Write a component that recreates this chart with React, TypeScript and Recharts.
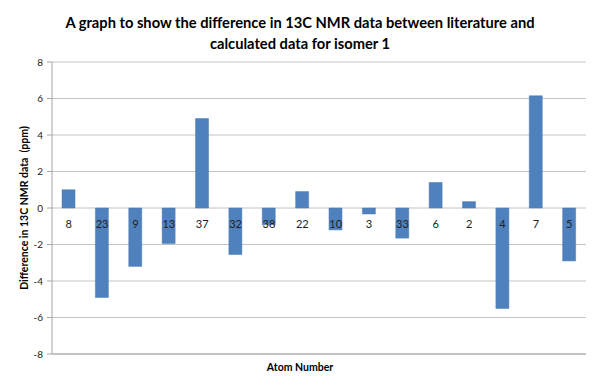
import React from "react";
import { BarChart, Bar, XAxis, YAxis, CartesianGrid } from "recharts";

// atom numbers in the order plotted
const atomNumbers = ["8", "23", "9", "13", "37", "32", "38", "22", "10", "3", "33", "6", "2", "4", "7", "5"];
// literature - calculated shift (ppm)
const differences = [1.0, -4.9, -3.2, -1.95, 4.9, -2.55, -0.92, 0.9, -1.2, -0.33, -1.65, 1.4, 0.35, -5.5, 6.15, -2.9];
const yTicks = [-8, -6, -4, -2, 0, 2, 4, 6, 8];

const W = 600;
const H = 386;
const M = { top: 62, right: 14, bottom: 2, left: 0 };
const X_AXIS_H = 30;
const PLOT_BOTTOM = H - M.bottom - X_AXIS_H;
const ZERO_OFFSET = (PLOT_BOTTOM - M.top) / 2;

const FONT = "Lato, 'Open Sans', sans-serif";

const data = atomNumbers.map((atom, i) => ({ atom, diff: differences[i] }));

// category labels sit just under the zero line, not at the bottom axis
function ZeroTick(props: any) {
  const { x, y, payload } = props;
  return (
    <text
      x={x}
      y={y - ZERO_OFFSET + 15}
      textAnchor="middle"
      dominantBaseline="central"
      fontSize={11}
      fontFamily={FONT}
      fill="#222"
    >
      {payload.value}
    </text>
  );
}

export default function App() {
  return (
    <div
      style={{
        position: "relative",
        width: W,
        height: H,
        background: "#fff",
        fontFamily: FONT,
        margin: -8,
      }}
    >
      <div
        style={{
          position: "absolute",
          left: 1,
          top: 4,
          width: 592,
          height: 378,
          border: "1px solid #8c8c8c",
          boxSizing: "border-box",
        }}
      />
      <div
        style={{
          position: "absolute",
          left: 0,
          top: 12,
          width: W,
          textAlign: "center",
          fontWeight: 700,
          fontSize: 14.7,
          lineHeight: "21px",
          color: "#000",
        }}
      >
        A graph to show the difference in 13C NMR data between literature and
        <br />
        calculated data for isomer 1
      </div>
      <div
        style={{
          position: "absolute",
          left: 24 - 100,
          top: 208 - 7,
          width: 200,
          height: 14,
          lineHeight: "14px",
          textAlign: "center",
          transform: "rotate(-90deg)",
          fontWeight: 700,
          fontSize: 10.5,
          color: "#000",
        }}
      >
        Difference in 13C NMR data&nbsp;&nbsp;(ppm)
      </div>
      <div
        style={{
          position: "absolute",
          left: 0,
          top: 361,
          width: W,
          textAlign: "center",
          fontWeight: 700,
          fontSize: 10.5,
          color: "#000",
        }}
      >
        Atom Number
      </div>
      <BarChart
        width={W}
        height={H}
        data={data}
        margin={M}
        barCategoryGap="30%"
        style={{ position: "absolute", left: 0, top: 0 }}
      >
        <CartesianGrid vertical={false} stroke="#c4c4c4" strokeWidth={1} />
        <XAxis
          dataKey="atom"
          height={X_AXIS_H}
          axisLine={{ stroke: "#a6a6a6" }}
          tickLine={false}
          tickSize={0}
          tickMargin={0}
          tick={<ZeroTick />}
          interval={0}
        />
        <YAxis
          width={52}
          domain={[-8, 8]}
          ticks={yTicks}
          interval={0}
          axisLine={{ stroke: "#a6a6a6" }}
          tickLine={{ stroke: "#a6a6a6" }}
          tickSize={5}
          tickMargin={4}
          tick={{ fontSize: 10, fill: "#222", fontFamily: FONT }}
        />
        <Bar dataKey="diff" fill="#4f81bd" stroke="#4a7ab5" strokeWidth={0.5} isAnimationActive={false} />
      </BarChart>
    </div>
  );
}
